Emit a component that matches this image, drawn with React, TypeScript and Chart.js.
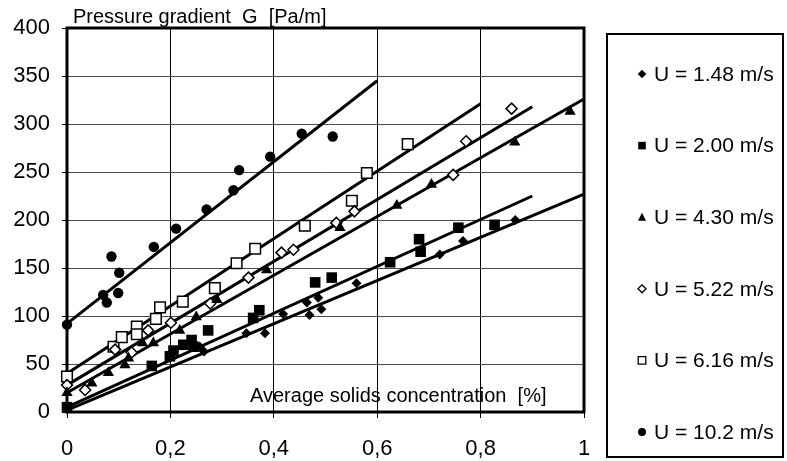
import React, { useEffect, useRef } from 'react';
import { Chart, registerables } from 'chart.js';

Chart.register(...registerables);

const FONT = "'Liberation Sans', Arial, sans-serif";

// Tick values and labels
const xTickValues = [0, 0.2, 0.4, 0.6, 0.8, 1];
const xTickLabels = ['0', '0,2', '0,4', '0,6', '0,8', '1'];
const yTickValues = [0, 50, 100, 150, 200, 250, 300, 350, 400];
const yTickLabels = ['0', '50', '100', '150', '200', '250', '300', '350', '400'];

const yTitle = 'Pressure gradient  G  [Pa/m]';
const xTitle = 'Average solids concentration  [%]';

// Series labels
const seriesLabels = ['U = 1.48 m/s', 'U = 2.00 m/s', 'U = 4.30 m/s', 'U = 5.22 m/s', 'U = 6.16 m/s', 'U = 10.2 m/s'];

// U = 1.48 m/s (filled diamonds)
const u148X = [0, 0.257, 0.265, 0.347, 0.383, 0.418, 0.464, 0.469, 0.486, 0.492, 0.560, 0.721, 0.766, 0.867];
const u148Y = [3, 68, 63, 82, 82, 102, 114, 101, 119, 107, 134, 164, 178, 200];

// U = 2.00 m/s (filled squares)
const u200X = [0, 0.164, 0.199, 0.206, 0.225, 0.241, 0.245, 0.273, 0.360, 0.372, 0.480, 0.512, 0.625, 0.681, 0.684, 0.757, 0.827];
const u200Y = [5, 48, 58, 64, 70, 75, 68, 85, 98, 106, 135, 140, 156, 180, 167, 192, 195];

// U = 4.30 m/s (filled triangles)
const u430X = [0, 0.048, 0.080, 0.112, 0.119, 0.146, 0.167, 0.218, 0.250, 0.290, 0.386, 0.528, 0.638, 0.705, 0.866, 0.973];
const u430Y = [20, 30, 41, 49, 56, 72, 72, 85, 99, 117, 148, 192, 215, 237, 281, 313];

// U = 5.22 m/s (open diamonds)
const u522X = [0, 0.035, 0.093, 0.125, 0.157, 0.201, 0.277, 0.351, 0.415, 0.438, 0.521, 0.556, 0.747, 0.772, 0.860];
const u522Y = [28, 23, 65, 62, 85, 93, 113, 140, 166, 169, 197, 209, 247, 282, 316];

// U = 6.16 m/s (open squares)
const u616X = [0, 0.090, 0.106, 0.135, 0.135, 0.172, 0.180, 0.224, 0.286, 0.328, 0.364, 0.460, 0.551, 0.580, 0.659];
const u616Y = [37, 68, 78, 89, 81, 97, 109, 115, 129, 155, 170, 194, 220, 249, 279];

// U = 10.2 m/s (filled circles)
const u102X = [0, 0.070, 0.077, 0.086, 0.101, 0.099, 0.168, 0.211, 0.270, 0.322, 0.333, 0.393, 0.454, 0.514];
const u102Y = [91, 122, 114, 162, 145, 124, 172, 191, 211, 231, 252, 266, 290, 287];

// Trend lines: [x0, y0, x1, y1]
const trend148 = [0, 2, 1.0, 227];
const trend200 = [0, 5, 0.9, 225];
const trend430 = [0, 20, 1.0, 326];
const trend522 = [0, 28, 0.9, 318];
const trend616 = [0, 40, 0.8, 321];
const trend102 = [0, 92, 0.6, 345];

const zip = (xs: number[], ys: number[]) => xs.map((x, i) => ({ x, y: ys[i] }));

type Marker = { style: string; radius: number; fill: string; border: string; bw: number };
const markers: Marker[] = [
  { style: 'rectRot', radius: 5, fill: '#000', border: '#000', bw: 0 },
  { style: 'rect', radius: 7.5, fill: '#000', border: '#000', bw: 0 },
  { style: 'triangle', radius: 6.5, fill: '#000', border: '#000', bw: 0 },
  { style: 'rectRot', radius: 5.5, fill: '#fff', border: '#000', bw: 1.5 },
  { style: 'rect', radius: 7.5, fill: '#fff', border: '#000', bw: 1.5 },
  { style: 'circle', radius: 5.2, fill: '#000', border: '#000', bw: 0 },
];

function drawLegendMarker(ctx: CanvasRenderingContext2D, kind: number, x: number, y: number) {
  ctx.save();
  ctx.beginPath();
  if (kind === 0) {
    const r = 4.3;
    ctx.moveTo(x, y - r); ctx.lineTo(x + r, y); ctx.lineTo(x, y + r); ctx.lineTo(x - r, y); ctx.closePath();
    ctx.fillStyle = '#000'; ctx.fill();
  } else if (kind === 1) {
    ctx.rect(x - 3.8, y - 3.8, 7.6, 7.6);
    ctx.fillStyle = '#000'; ctx.fill();
  } else if (kind === 2) {
    ctx.moveTo(x, y - 4.5); ctx.lineTo(x + 4, y + 3.5); ctx.lineTo(x - 4, y + 3.5); ctx.closePath();
    ctx.fillStyle = '#000'; ctx.fill();
  } else if (kind === 3) {
    const r = 4;
    ctx.moveTo(x, y - r); ctx.lineTo(x + r, y); ctx.lineTo(x, y + r); ctx.lineTo(x - r, y); ctx.closePath();
    ctx.fillStyle = '#fff'; ctx.fill(); ctx.lineWidth = 1.3; ctx.strokeStyle = '#000'; ctx.stroke();
  } else if (kind === 4) {
    ctx.rect(x - 3.8, y - 3.8, 7.6, 7.6);
    ctx.fillStyle = '#fff'; ctx.fill(); ctx.lineWidth = 1.3; ctx.strokeStyle = '#000'; ctx.stroke();
  } else {
    ctx.arc(x, y, 4, 0, Math.PI * 2);
    ctx.fillStyle = '#000'; ctx.fill();
  }
  ctx.restore();
}

const framePlugin = {
  id: 'frame',
  beforeDatasetsDraw(chart: any) {
    const { ctx, chartArea: a } = chart;
    ctx.save();
    ctx.strokeStyle = '#000';
    ctx.lineWidth = 3;
    ctx.strokeRect(a.left, a.top, a.right - a.left, a.bottom - a.top);
    ctx.restore();
  },
  afterDraw(chart: any) {
    const { ctx, chartArea: a } = chart;
    ctx.save();
    ctx.fillStyle = '#000';
    ctx.font = `20px ${FONT}`;
    ctx.textBaseline = 'alphabetic';
    ctx.textAlign = 'left';
    ctx.fillText(yTitle, a.left + 6, 23);
    ctx.fillText(xTitle, 250, 402);

    // legend box
    ctx.lineWidth = 2;
    ctx.strokeStyle = '#000';
    ctx.strokeRect(607, 34, 176, 423);
    ctx.font = `21px ${FONT}`;
    ctx.textBaseline = 'middle';
    for (let i = 0; i < seriesLabels.length; i++) {
      const cy = 74 + i * 71.6;
      drawLegendMarker(ctx, i, 642, cy);
      ctx.fillStyle = '#000';
      ctx.fillText(seriesLabels[i], 654, cy + 1);
    }
    ctx.restore();
  },
};

export default function App() {
  const ref = useRef<HTMLCanvasElement | null>(null);

  useEffect(() => {
    if (!ref.current) return;
    const pointSets = [
      zip(u148X, u148Y), zip(u200X, u200Y), zip(u430X, u430Y),
      zip(u522X, u522Y), zip(u616X, u616Y), zip(u102X, u102Y),
    ];
    const trends = [trend148, trend200, trend430, trend522, trend616, trend102];

    const pointDatasets = pointSets.map((data, i) => ({
      label: seriesLabels[i],
      data,
      showLine: false,
      pointStyle: markers[i].style as any,
      pointRadius: markers[i].radius,
      pointBackgroundColor: markers[i].fill,
      pointBorderColor: markers[i].border,
      pointBorderWidth: markers[i].bw,
      pointHoverRadius: markers[i].radius,
      clip: false as any,
    }));
    const lineDatasets = trends.map((t, i) => ({
      label: 'trend ' + seriesLabels[i],
      data: [{ x: t[0], y: t[1] }, { x: t[2], y: t[3] }],
      showLine: true,
      borderColor: '#000',
      borderWidth: 3,
      pointRadius: 0,
      pointHoverRadius: 0,
      fill: false,
      clip: false as any,
    }));

    const chart = new Chart(ref.current, {
      type: 'scatter',
      data: { datasets: [...pointDatasets, ...lineDatasets] as any },
      options: {
        responsive: false,
        animation: false,
        devicePixelRatio: 1,
        layout: { padding: { top: 28, right: 203, left: 0, bottom: 0 } },
        plugins: { legend: { display: false }, tooltip: { enabled: false } },
        scales: {
          x: {
            type: 'linear',
            min: 0,
            max: 1,
            afterBuildTicks: (s: any) => { s.ticks = xTickValues.map((v) => ({ value: v })); },
            afterFit: (s: any) => { s.height = 49; },
            ticks: {
              callback: (v: any) => xTickLabels[xTickValues.indexOf(Number(v))],
              font: { family: FONT, size: 22 },
              color: '#000',
              padding: 18,
              maxRotation: 0,
              autoSkip: false,
            },
            grid: { color: '#000', lineWidth: 1, tickLength: 6, tickColor: '#000' },
            border: { display: false },
          },
          y: {
            type: 'linear',
            min: 0,
            max: 400,
            afterBuildTicks: (s: any) => { s.ticks = yTickValues.map((v) => ({ value: v })); },
            afterFit: (s: any) => { s.width = 67; },
            ticks: {
              callback: (v: any) => yTickLabels[yTickValues.indexOf(Number(v))],
              font: { family: FONT, size: 22 },
              color: '#000',
              padding: 12,
              autoSkip: false,
            },
            grid: { color: '#4a4a4a', lineWidth: 1, tickLength: 5, tickColor: '#000' },
            border: { display: false },
          },
        },
      },
      plugins: [framePlugin],
    });
    return () => chart.destroy();
  }, []);

  return (
    <div style={{ position: 'absolute', left: 0, top: 0, width: 787, height: 461, background: '#fff' }}>
      <canvas ref={ref} width={787} height={461} style={{ display: 'block' }} />
    </div>
  );
}
